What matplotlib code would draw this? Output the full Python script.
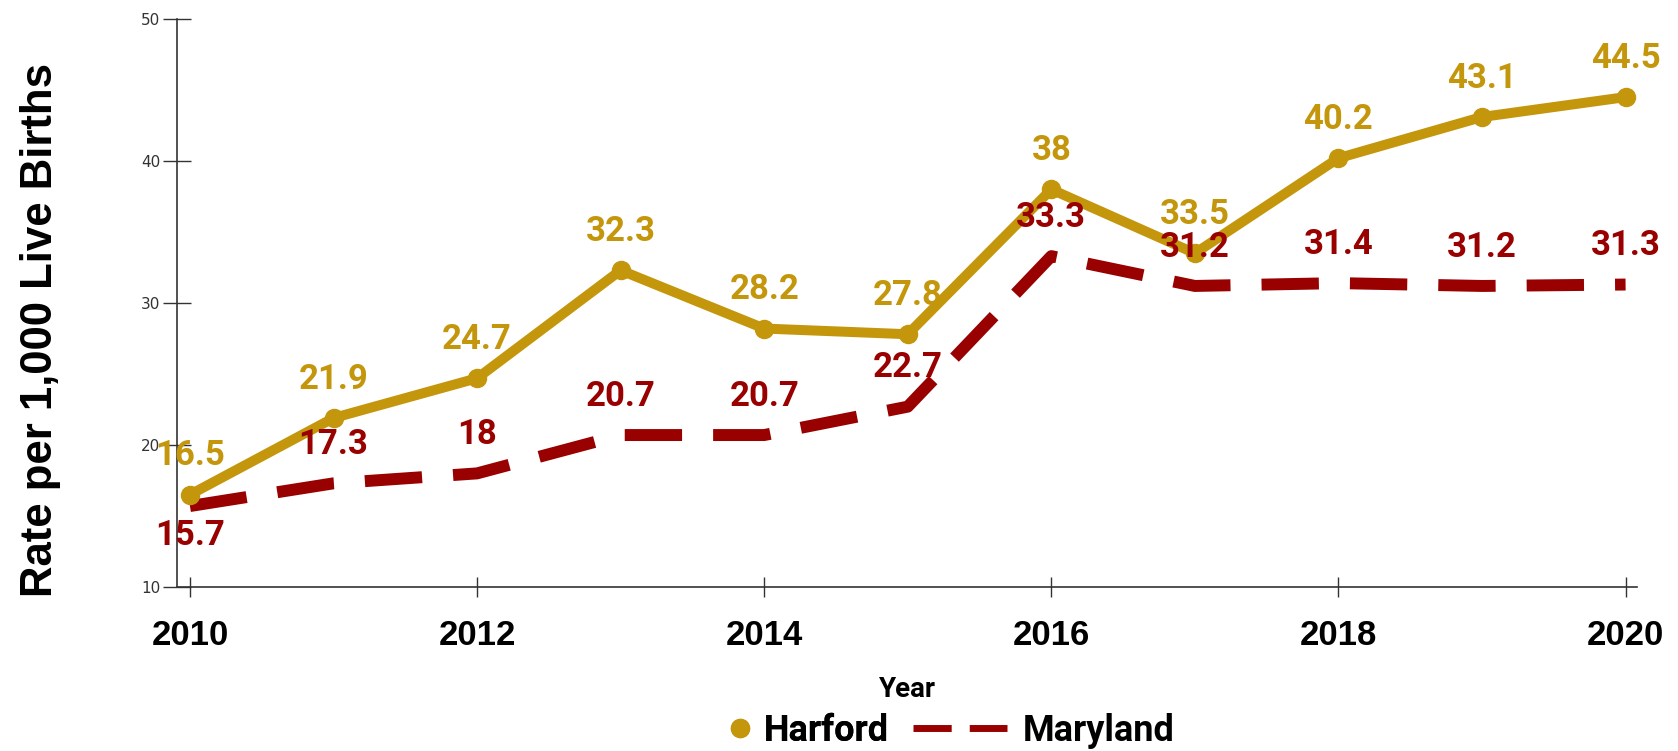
import matplotlib
matplotlib.use("Agg")
import matplotlib.pyplot as plt
from matplotlib.lines import Line2D

years = [2010, 2011, 2012, 2013, 2014, 2015, 2016, 2017, 2018, 2019, 2020]
harford = [16.5, 21.9, 24.7, 32.3, 28.2, 27.8, 38, 33.5, 40.2, 43.1, 44.5]
maryland = [15.7, 17.3, 18, 20.7, 20.7, 22.7, 33.3, 31.2, 31.4, 31.2, 31.3]
harford_labels = ["16.5", "21.9", "24.7", "32.3", "28.2", "27.8", "38", "33.5", "40.2", "43.1", "44.5"]
maryland_labels = ["15.7", "17.3", "18", "20.7", "20.7", "22.7", "33.3", "31.2", "31.4", "31.2", "31.3"]
x_ticks = [2010, 2012, 2014, 2016, 2018, 2020]
y_ticks = [10, 20, 30, 40, 50]

GOLD = "#C4960C"
RED = "#990000"
LABEL_FONT = ["Roboto", "DejaVu Sans"]
NARROW = ["Liberation Sans Narrow", "Roboto", "DejaVu Sans"]

fig = plt.figure(figsize=(16.78, 7.51), dpi=100)
ax = fig.add_axes([0.1055, 0.2184, 0.8701, 0.7563])

ax.plot(years, maryland, color=RED, lw=8.6, dashes=(4.8, 2.6), solid_capstyle="butt",
        dash_capstyle="butt", zorder=2)
ax.plot(years, harford, color=GOLD, lw=7.2, marker="o", markersize=13,
        solid_joinstyle="round", zorder=3)

for x, y, t in zip(years, harford, harford_labels):
    ax.annotate(t, (x, y), xytext=(0, 28), textcoords="offset points",
                ha="center", va="center", color=GOLD, fontsize=25,
                fontweight="bold", family=LABEL_FONT, zorder=5)
for i, (x, y, t) in enumerate(zip(years, maryland, maryland_labels)):
    off = -21 if i == 0 else 28
    ax.annotate(t, (x, y), xytext=(0, off), textcoords="offset points",
                ha="center", va="center", color=RED, fontsize=25,
                fontweight="bold", family=LABEL_FONT, zorder=5)

ax.set_xlim(2009.91, 2020.08)
ax.set_ylim(10, 50)
ax.set_xticks(x_ticks)
ax.set_yticks(y_ticks)
ax.set_xticklabels([str(v) for v in x_ticks], fontsize=25, fontweight="bold",
                   family=["Liberation Sans", "DejaVu Sans"])
ax.set_yticklabels([str(v) for v in y_ticks], fontsize=11, color="#333333",
                   family=["DejaVu Sans"])
ax.tick_params(axis="x", direction="inout", length=14, width=1, pad=16, color="#333333")
ax.tick_params(axis="y", direction="inout", length=20, width=1, pad=2, color="#333333")

for s in ["top", "right"]:
    ax.spines[s].set_visible(False)
for s in ["left", "bottom"]:
    ax.spines[s].set_color("#333333")
    ax.spines[s].set_linewidth(1.2)

ax.set_xlabel("Year", fontsize=20, fontweight="bold", family=NARROW, labelpad=17)
fig.text(0.024, 0.56, "Rate per 1,000 Live Births", rotation=90, ha="center",
         va="center", fontsize=31.5, fontweight="bold",
         family=["Liberation Sans", "DejaVu Sans"])

h1 = [Line2D([0], [0], color=GOLD, marker="o", lw=0, markersize=13)]
h2 = [Line2D([0], [0], color=RED, lw=5, dashes=(5.5, 2.6))]
leg1 = fig.legend(h1, ["Harford"], loc="center", bbox_to_anchor=(0.481, 0.027),
                  frameon=False, handlelength=0.8, handletextpad=0.25,
                  borderpad=0.1,
                  prop={"family": NARROW, "weight": "bold", "size": 26})
fig.add_artist(leg1)
leg2 = fig.legend(h2, ["Maryland"], loc="center", bbox_to_anchor=(0.622, 0.027),
                  frameon=False, handlelength=2.6, handletextpad=0.45,
                  borderpad=0.1,
                  prop={"family": NARROW, "weight": "bold", "size": 26})

fig.savefig("out.png", dpi=100)
